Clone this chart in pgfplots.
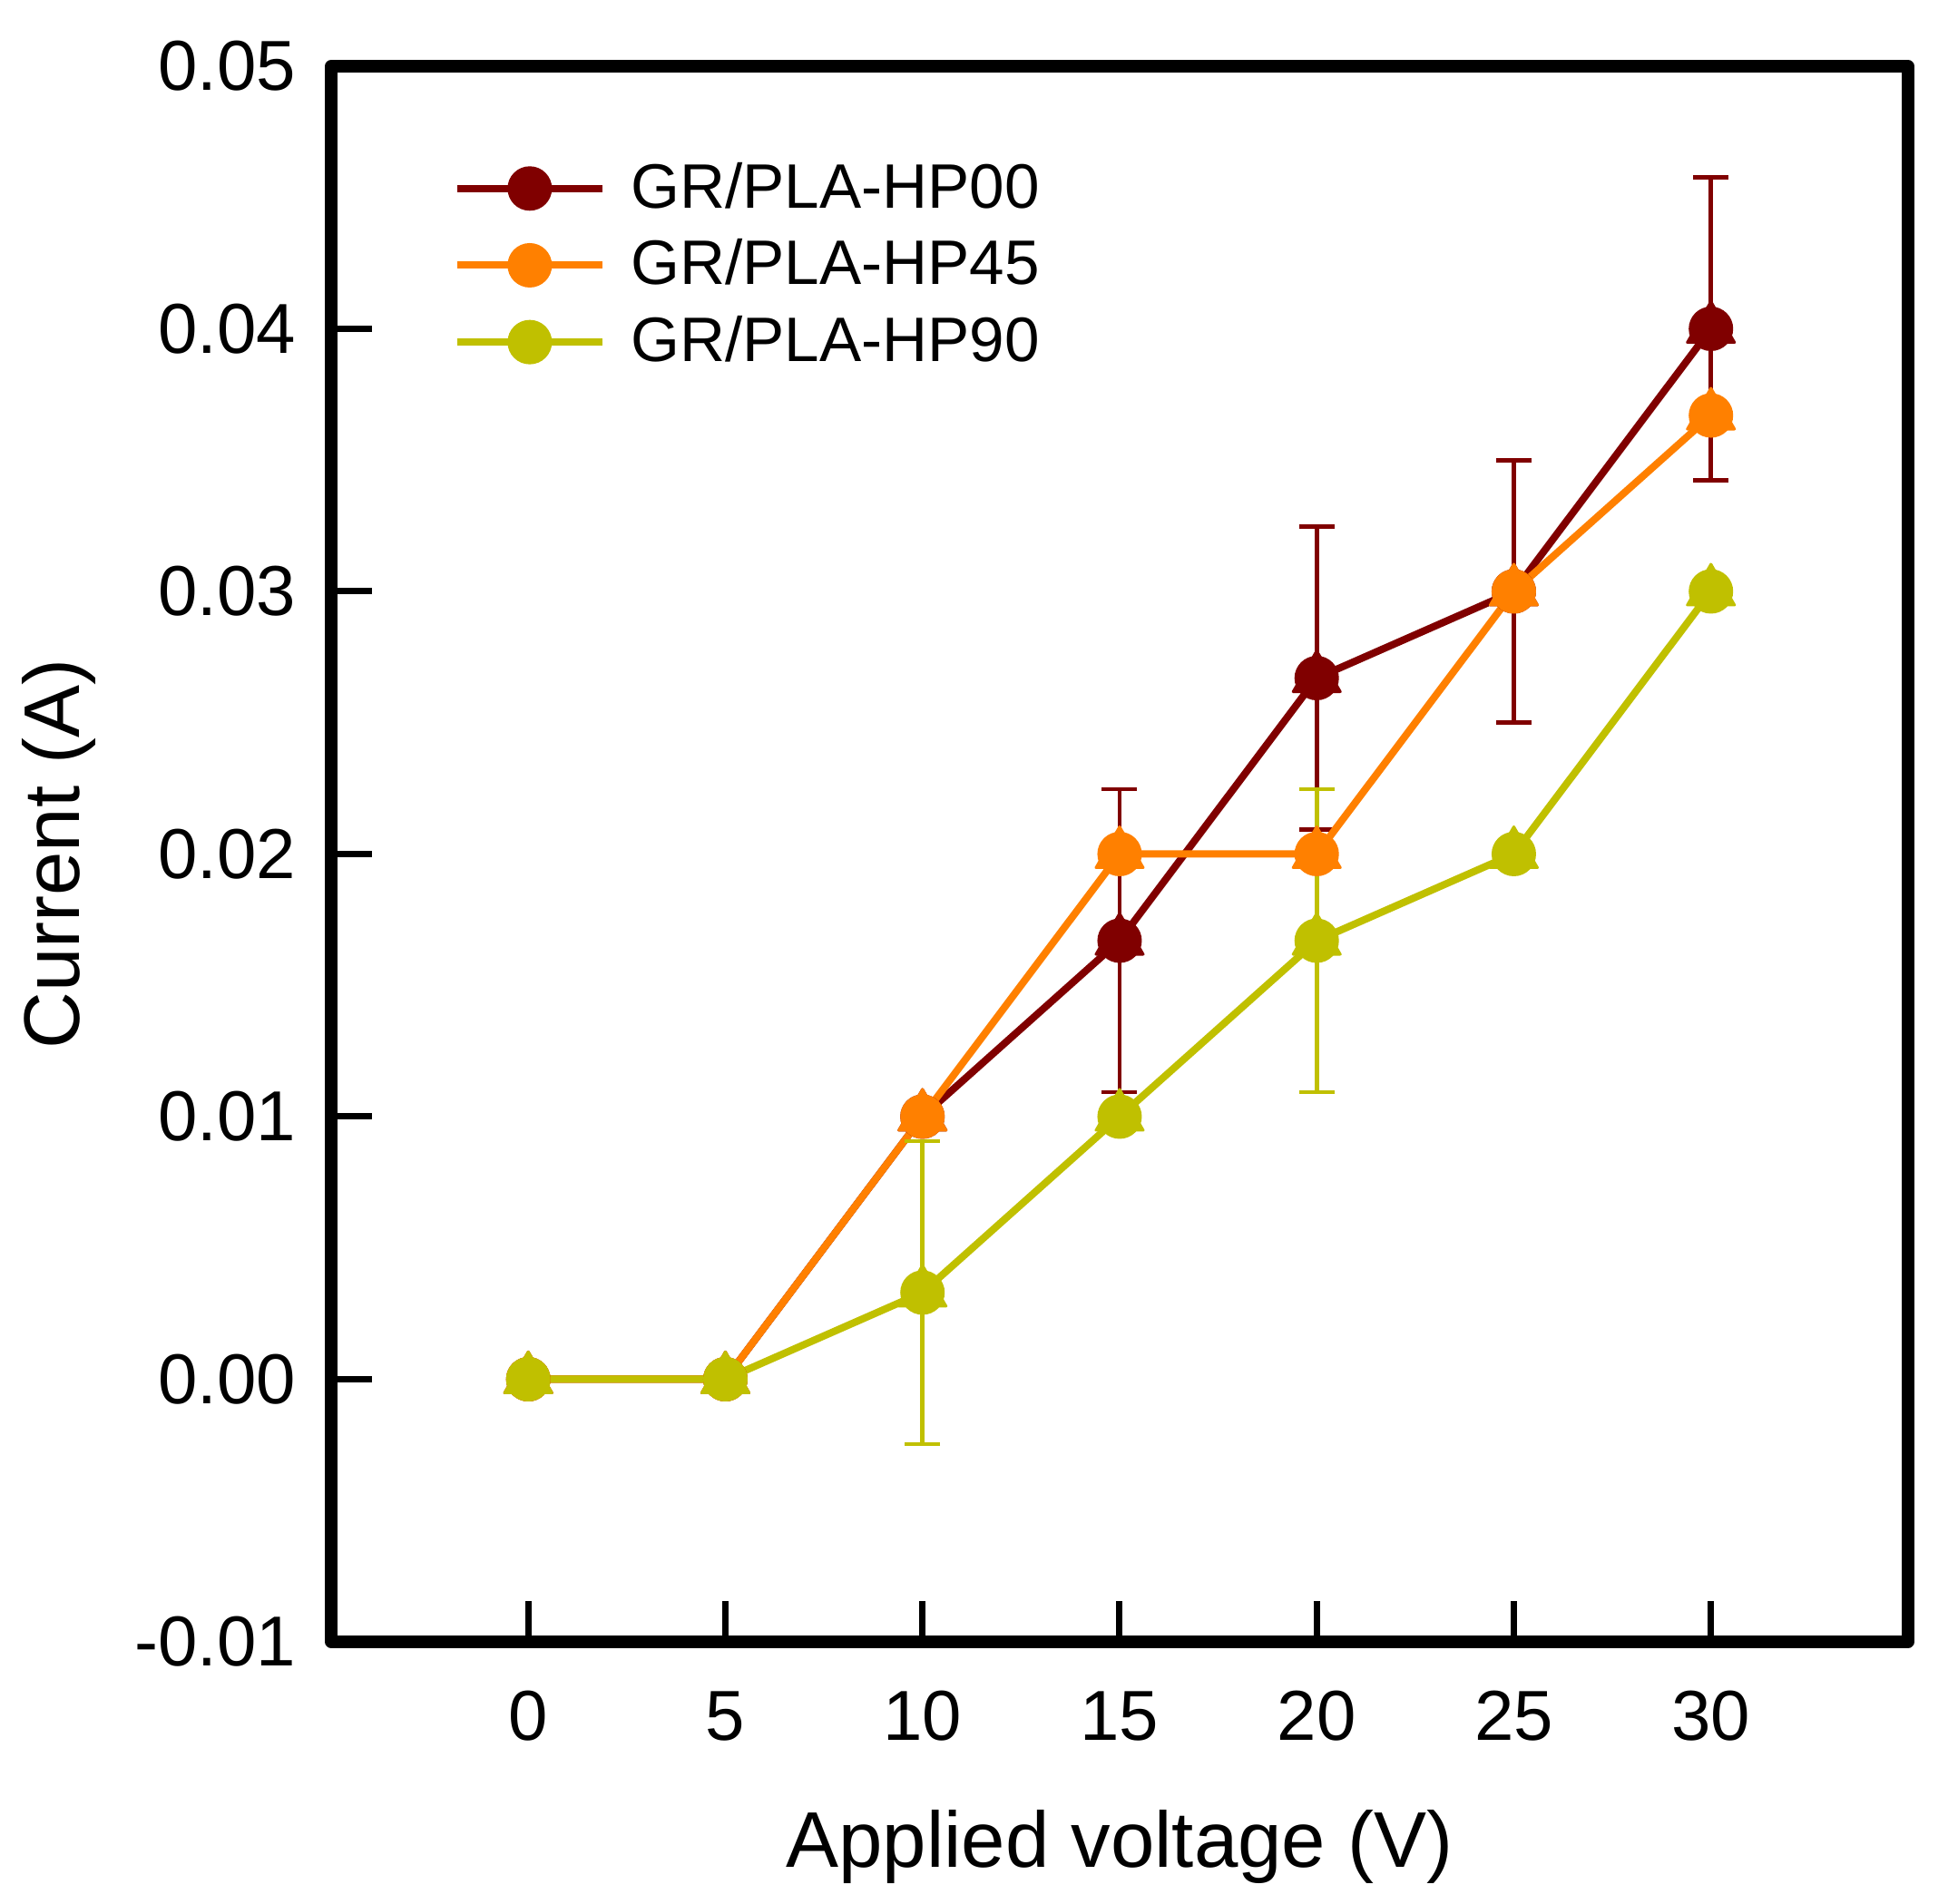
\documentclass[border=0pt]{standalone}
\usepackage{pgfplots}
\pgfplotsset{compat=1.18}
\usepackage{fontspec}
\setmainfont{Liberation Sans}
\definecolor{cHPa}{RGB}{128,0,0}
\definecolor{cHPb}{RGB}{255,128,0}
\definecolor{cHPc}{RGB}{192,192,0}
\begin{document}
\begin{tikzpicture}
\begin{axis}[
  at={(0,0)}, anchor=south west,
  scale only axis,
  width=347.6pt, height=347.4pt,
  xmin=-5, xmax=35, ymin=-0.01, ymax=0.05,
  xtick={0,5,10,15,20,25,30},
  xticklabels={0,5,10,15,20,25,30},
  ytick={-0.01,0,0.01,0.02,0.03,0.04,0.05},
  yticklabels={-0.01,0.00,0.01,0.02,0.03,0.04,0.05},
  scaled y ticks=false,
  tick pos=left,
  tick align=inside,
  major tick length=9pt,
  tick style={line width=1.4pt, black},
  axis line style={line width=2.7pt, line join=round},
  ticklabel style={font=\fontsize{15.6}{18}\selectfont},
  xticklabel style={anchor=base, yshift=-21.8pt},
  yticklabel style={anchor=east, inner sep=0pt, xshift=-7.6pt},
  label style={font=\fontsize{17.4}{20}\selectfont},
  xlabel={Applied voltage (V)},
  ylabel={Current (A)},
  xlabel style={at={(axis description cs:0.5,0)}, anchor=base, yshift=-49.8pt},
  ylabel style={at={(axis description cs:0,0.5)}, anchor=base, yshift=55.4pt},
  legend style={at={(axis description cs:0.0776,0.939)}, anchor=north west,
    draw=none, fill=none, inner sep=0pt, outer sep=0pt,
    font=\fontsize{13.85}{16}\selectfont,
    nodes={inner sep=0pt}, row sep=5.4pt, column sep=5.5pt},
  legend cell align=left,
  legend image code/.code={\draw[mark repeat=2,mark phase=2,#1] plot coordinates {(0pt,0pt) (16pt,0pt) (32pt,0pt)};},
  every axis plot/.append style={line width=1.6pt},
  error bars/y dir=both,
  error bars/y explicit,
  error bars/error mark options={rotate=90, mark size=3.9pt, line width=0.95pt},
  error bars/error bar style={line width=0.95pt},
]
% GR/PLA-HP00
\addplot[color=cHPa, mark=*, mark size=4.6pt, mark options={line width=0.6pt}]
  table[x=x, y=y, y error=e] {
x y e
0 0 0
5 0 0
10 0.01 0
15 0.0167 0.00577
20 0.0267 0.00577
25 0.030 0.005
30 0.040 0.00577
};
\addlegendentry{GR/PLA-HP00}
\addplot[color=cHPa, only marks, mark=triangle*, mark size=6.0pt, mark options={line width=0.6pt, line join=round}, forget plot, error bars/y dir=none]
  table[x=x, y=y] {
x y
0 0
5 0
10 0.01
15 0.0167
20 0.0267
25 0.030
30 0.040
};
% GR/PLA-HP45
\addplot[color=cHPb, mark=*, mark size=4.6pt, mark options={line width=0.6pt}, error bars/y dir=none]
  table[x=x, y=y] {
x y
0 0
5 0
10 0.01
15 0.02
20 0.02
25 0.030
30 0.0367
};
\addlegendentry{GR/PLA-HP45}
\addplot[color=cHPb, only marks, mark=triangle*, mark size=6.0pt, mark options={line width=0.6pt, line join=round}, forget plot, error bars/y dir=none]
  table[x=x, y=y] {
x y
0 0
5 0
10 0.01
15 0.02
20 0.02
25 0.030
30 0.0367
};
% GR/PLA-HP90
\addplot[color=cHPc, mark=*, mark size=4.6pt, mark options={line width=0.6pt}]
  table[x=x, y=y, y error=e] {
x y e
0 0 0
5 0 0
10 0.0033 0.00577
15 0.01 0
20 0.0167 0.00577
25 0.02 0
30 0.030 0
};
\addlegendentry{GR/PLA-HP90}
\addplot[color=cHPc, only marks, mark=triangle*, mark size=6.0pt, mark options={line width=0.6pt, line join=round}, forget plot, error bars/y dir=none]
  table[x=x, y=y] {
x y
0 0
5 0
10 0.0033
15 0.01
20 0.0167
25 0.02
30 0.030
};
\end{axis}
\pgfresetboundingbox
\path[use as bounding box] (-73pt,-57.8pt) rectangle (356.4pt,362pt);
\end{tikzpicture}
\end{document}
